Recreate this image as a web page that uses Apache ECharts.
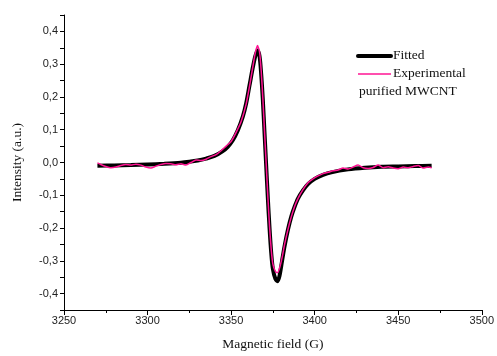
<!DOCTYPE html>
<html>
<head>
<meta charset="utf-8">
<script src="https://cdn.jsdelivr.net/npm/echarts@6/dist/echarts.min.js"></script>
<style>html,body{margin:0;padding:0;background:#fff}#c{width:497px;height:356px}</style>
</head>
<body>
<div id="c"></div>
<script>
// Magnetic field (G) and intensity (a.u.) for the fitted curve
var fitX = [3270,3280,3290,3300,3310,3320,3325,3330,3335,3340,3345,3348,3351,3354,3357,3359,3361,3363,3364.5,3365.8,3367,3368,3369,3370,3371,3372,3373,3374,3375,3376.5,3377.8,3379,3380.5,3382,3384,3386,3388,3390,3393,3396,3400,3405,3410,3420,3430,3440,3450,3460,3470];
var fitY = [-0.010,-0.009,-0.008,-0.006,-0.004,-0.001,0.002,0.006,0.012,0.020,0.035,0.048,0.068,0.098,0.140,0.180,0.235,0.290,0.325,0.342,0.325,0.270,0.190,0.090,-0.010,-0.110,-0.200,-0.275,-0.325,-0.355,-0.362,-0.345,-0.300,-0.255,-0.205,-0.165,-0.135,-0.110,-0.085,-0.066,-0.050,-0.038,-0.030,-0.021,-0.016,-0.013,-0.012,-0.011,-0.010];
// Experimental curve
var expX = [3270,3272,3275,3278,3281,3284,3287,3290,3293,3296,3299,3302,3305,3308,3311,3314,3317,3320,3323,3326,3329,3332,3335,3338,3341,3344,3347,3350,3353,3356,3359,3361,3363,3364.5,3365.8,3367,3368,3369,3370,3371,3372,3373,3374,3375,3376.5,3377.8,3379,3380.5,3382,3384,3386,3388,3390,3393,3396,3399,3402,3405,3408,3411,3414,3417,3420,3423,3426,3429,3432,3435,3438,3441,3444,3447,3450,3453,3456,3459,3462,3465,3468,3470];
var expY = [-0.001,-0.006,-0.012,-0.016,-0.014,-0.009,-0.006,-0.008,-0.005,-0.008,-0.014,-0.017,-0.011,-0.006,-0.003,-0.004,-0.007,-0.004,-0.008,0.000,0.008,0.006,0.010,0.018,0.024,0.036,0.050,0.064,0.092,0.125,0.178,0.232,0.292,0.335,0.357,0.338,0.280,0.195,0.095,-0.005,-0.105,-0.195,-0.265,-0.310,-0.332,-0.336,-0.322,-0.290,-0.250,-0.205,-0.166,-0.134,-0.110,-0.083,-0.062,-0.050,-0.041,-0.034,-0.030,-0.025,-0.023,-0.017,-0.020,-0.014,-0.008,-0.016,-0.018,-0.015,-0.008,-0.016,-0.013,-0.017,-0.019,-0.014,-0.016,-0.012,-0.009,-0.017,-0.014,-0.016];
var legendNames = ['Fitted', 'Experimental', 'purified MWCNT'];

function pairs(xs, ys){ return xs.map(function(x,i){ return [x, ys[i]]; }); }

var chart = echarts.init(document.getElementById('c'), null, {renderer:'canvas'});
var serif = '"Liberation Serif","Times New Roman",serif';
var sans = '"Liberation Sans",Arial,sans-serif';
chart.setOption({
  animation:false,
  backgroundColor:'#fff',
  grid:{left:64, right:14, top:15, bottom:43},
  xAxis:{
    type:'value', min:3250, max:3500, interval:50,
    name:'Magnetic field (G)', nameLocation:'middle', nameGap:27,
    nameTextStyle:{fontFamily:serif, fontSize:13.5, color:'#111'},
    axisLine:{onZero:false, lineStyle:{color:'#000', width:1}},
    axisTick:{show:true, inside:false, length:5, lineStyle:{color:'#000'}},
    minorTick:{show:true, splitNumber:2, length:3, lineStyle:{color:'#000'}},
    axisLabel:{fontFamily:sans, fontSize:11, color:'#222', margin:5,
      formatter:function(v){ return String(Math.round(v)); }},
    splitLine:{show:false}
  },
  yAxis:{
    type:'value', min:-0.45, max:0.45, interval:0.05,
    name:'Intensity (a.u.)', nameLocation:'middle', nameGap:40,
    nameTextStyle:{fontFamily:serif, fontSize:13.5, color:'#111'},
    axisLine:{show:true, onZero:false, lineStyle:{color:'#000', width:1}},
    axisTick:{show:true, inside:false, length:4, lineStyle:{color:'#000'}},
    axisLabel:{fontFamily:sans, fontSize:11, color:'#222', margin:6,
      formatter:function(v){
        var k = Math.round(v*100);
        if (Math.abs(k) % 10 !== 0) return '';
        return (k/100).toFixed(1).replace('.', ',');
      }},
    splitLine:{show:false}
  },
  series:[
    {name:legendNames[0], type:'line', data:pairs(fitX, fitY), showSymbol:false, symbol:'none', smooth:0.3,
      lineStyle:{color:'#000', width:4}, z:2},
    {name:legendNames[1], type:'line', data:pairs(expX, expY), showSymbol:false, symbol:'none', smooth:0.2,
      lineStyle:{color:'#ff1493', width:1.5}, z:3}
  ],
  graphic:[
    {type:'line', shape:{x1:358, y1:56, x2:391, y2:56}, style:{stroke:'#000', lineWidth:4, lineCap:'round'}},
    {type:'text', left:393, top:48, style:{text:legendNames[0], font:'13.5px '+serif, fill:'#111'}},
    {type:'line', shape:{x1:358, y1:74, x2:391, y2:74}, style:{stroke:'#ff1493', lineWidth:1.5}},
    {type:'text', left:393, top:66, style:{text:legendNames[1], font:'13.5px '+serif, fill:'#111'}},
    {type:'text', left:359, top:84, style:{text:legendNames[2], font:'13.5px '+serif, fill:'#111'}}
  ]
});
</script>
</body>
</html>
